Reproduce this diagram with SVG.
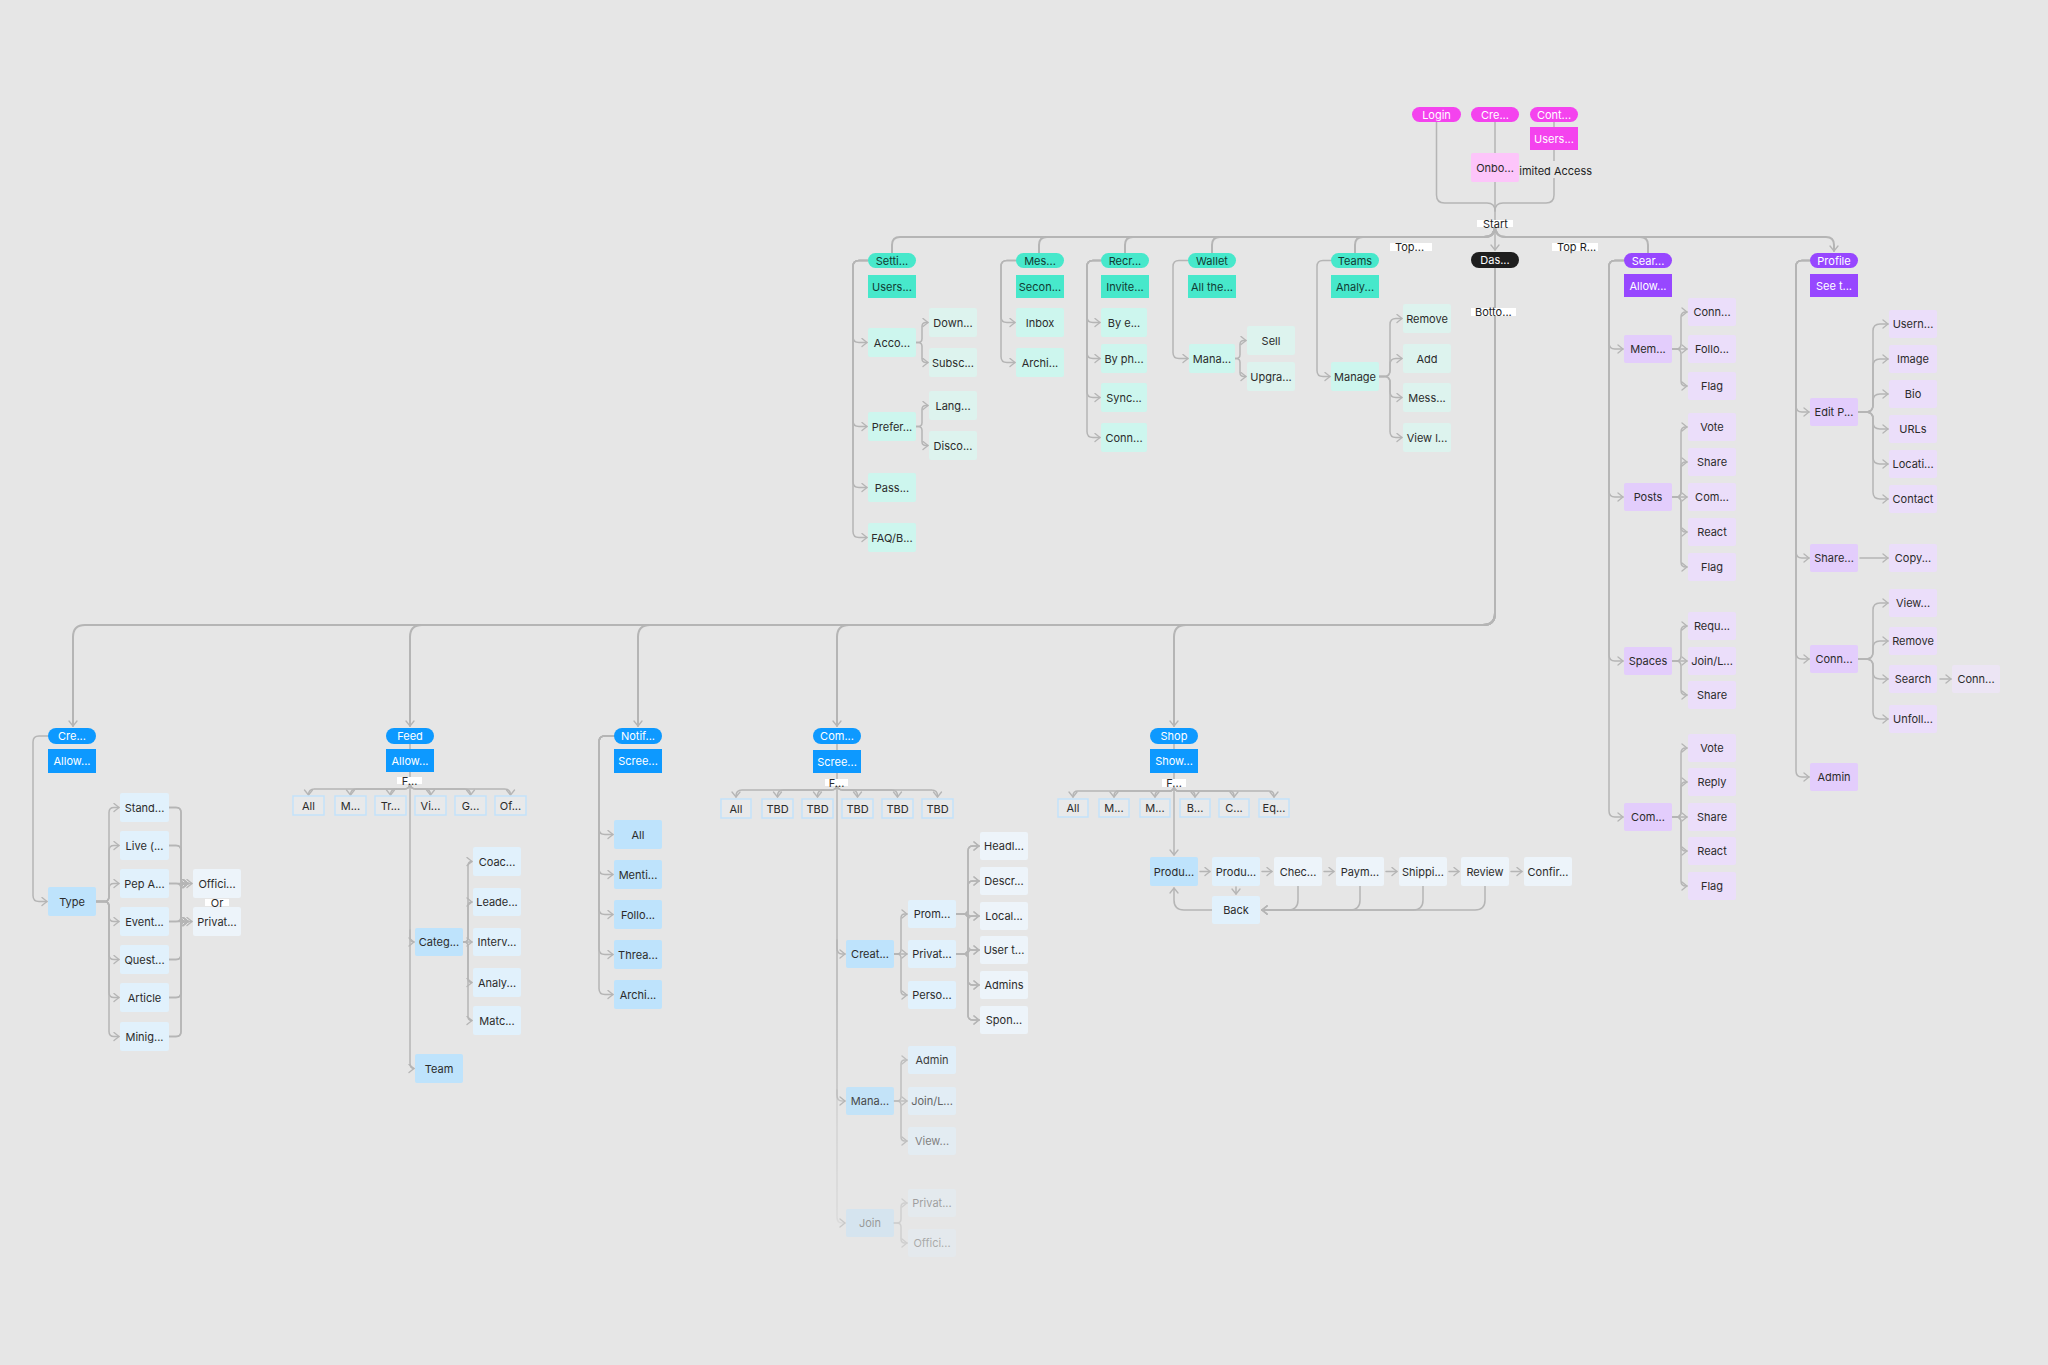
<svg xmlns="http://www.w3.org/2000/svg" width="2048" height="1365" viewBox="0 0 2048 1365">
<defs>
<style>
.c{fill:none;stroke:#b5b5b5;stroke-width:1.5;stroke-linecap:round;stroke-linejoin:round}
.cm{stroke-width:2}
.a{marker-end:url(#ar)}
text{font-family:Inter,"Noto Sans","Liberation Sans",sans-serif;font-size:11px;text-anchor:middle;dominant-baseline:central;fill:#2b2b2b}
text.w{fill:#ffffff}
text.tt{fill:#123b33}
text.l{text-anchor:start;fill:#1e1e1e}
.pm{fill:#f443ee}
.lm{fill:#fdc5fa}
.pd{fill:#1e1e1e}
.pt{fill:#47e8cb}
.t1{fill:#cdf6ee}
.t2{fill:#ddf3ee}
.pp{fill:#9747ff}
.p1{fill:#e3cdfc}
.p2{fill:#ebdefa}
.p3{fill:#ece5f4}
.pb{fill:#0d99ff}
.b1{fill:#bee3fc}
.b2{fill:#e1f1fc}
.b3{fill:#edf4fa}
.tab{fill:#e8e9ea;stroke:#c3e2fa;stroke-width:1.5}
.lb{fill:#ffffff}
</style>
<marker id="ar" markerUnits="userSpaceOnUse" markerWidth="12" markerHeight="12" viewBox="0 0 12 12" refX="6" refY="5" orient="auto"><path d="M1,1 L6,5 L1,9" fill="none" stroke="#b5b5b5" stroke-width="1.3" stroke-linecap="round" stroke-linejoin="round"/></marker>
<linearGradient id="fd" gradientUnits="userSpaceOnUse" x1="0" y1="1000" x2="0" y2="1240"><stop offset="0" stop-color="#b5b5b5"/><stop offset="1" stop-color="#b5b5b5" stop-opacity="0.3"/></linearGradient>
</defs>
<rect width="2048" height="1365" fill="#e6e6e6"/>

<g id="connectors">
<!-- top entry -->
<path class="c" d="M1436.5,122 V195 Q1436.5,203 1444.5,203 H1487 Q1495,203 1495,211"/>
<path class="c" d="M1554,122 V195 Q1554,203 1546,203 H1503 Q1495,203 1495,211"/>
<path class="c a" d="M1495,122 V250"/>
<!-- upper hub -->
<path class="c cm" d="M1495,226 Q1495,237 1484,237 H900 Q892,237 892,245 V253"/>
<path class="c cm" d="M1495,226 Q1495,237 1484,237 H1047 Q1039,237 1039,245 V253"/>
<path class="c cm" d="M1495,226 Q1495,237 1484,237 H1133 Q1125,237 1125,245 V253"/>
<path class="c cm" d="M1495,226 Q1495,237 1484,237 H1220 Q1212,237 1212,245 V253"/>
<path class="c cm" d="M1495,226 Q1495,237 1484,237 H1363 Q1355,237 1355,245 V253"/>
<path class="c cm" d="M1495,226 Q1495,237 1506,237 H1640 Q1648,237 1648,245 V253"/>
<path class="c cm a" d="M1495,226 Q1495,237 1506,237 H1826 Q1834,237 1834,245 V251"/>
<!-- lower hub -->
<path class="c cm a" d="M1495,268 V613 Q1495,625 1483,625 H85 Q73,625 73,637 V726"/>
<path class="c cm a" d="M1495,268 V613 Q1495,625 1483,625 H422 Q410,625 410,637 V726"/>
<path class="c cm a" d="M1495,268 V613 Q1495,625 1483,625 H650 Q638,625 638,637 V726"/>
<path class="c cm a" d="M1495,268 V613 Q1495,625 1483,625 H849 Q837,625 837,637 V726"/>
<path class="c cm a" d="M1495,268 V613 Q1495,625 1483,625 H1186 Q1174,625 1174,637 V726"/>

<!-- settings -->
<path class="c a" d="M868,260.5 H859 Q853,260.5 853,266.5 V336.5 Q853,342.5 859,342.5 H867"/>
<path class="c a" d="M868,260.5 H859 Q853,260.5 853,266.5 V420.5 Q853,426.5 859,426.5 H867"/>
<path class="c a" d="M868,260.5 H859 Q853,260.5 853,266.5 V481.5 Q853,487.5 859,487.5 H867"/>
<path class="c a" d="M868,260.5 H859 Q853,260.5 853,266.5 V531.5 Q853,537.5 859,537.5 H867"/>
<path class="c a" d="M916,342.5 H918 Q922,342.5 922,338.5 V326.5 Q922,322.5 926,322.5 H928"/>
<path class="c a" d="M916,342.5 H918 Q922,342.5 922,346.5 V358.5 Q922,362.5 926,362.5 H928"/>
<path class="c a" d="M916,426.5 H918 Q922,426.5 922,422.5 V409.5 Q922,405.5 926,405.5 H928"/>
<path class="c a" d="M916,426.5 H918 Q922,426.5 922,430.5 V441.5 Q922,445.5 926,445.5 H928"/>
<!-- messages -->
<path class="c a" d="M1016,260.5 H1007 Q1001,260.5 1001,266.5 V316.5 Q1001,322.5 1007,322.5 H1015"/>
<path class="c a" d="M1016,260.5 H1007 Q1001,260.5 1001,266.5 V356.5 Q1001,362.5 1007,362.5 H1015"/>
<!-- recruit -->
<path class="c a" d="M1101,260.5 H1093 Q1087,260.5 1087,266.5 V316.5 Q1087,322.5 1093,322.5 H1100"/>
<path class="c a" d="M1101,260.5 H1093 Q1087,260.5 1087,266.5 V352.5 Q1087,358.5 1093,358.5 H1100"/>
<path class="c a" d="M1101,260.5 H1093 Q1087,260.5 1087,266.5 V391.5 Q1087,397.5 1093,397.5 H1100"/>
<path class="c a" d="M1101,260.5 H1093 Q1087,260.5 1087,266.5 V431.5 Q1087,437.5 1093,437.5 H1100"/>
<!-- wallet -->
<path class="c a" d="M1188,260.5 H1179 Q1173,260.5 1173,266.5 V352.5 Q1173,358.5 1179,358.5 H1188"/>
<path class="c a" d="M1235,358.5 H1236 Q1240,358.5 1240,354.5 V344.5 Q1240,340.5 1244,340.5 H1246"/>
<path class="c a" d="M1235,358.5 H1236 Q1240,358.5 1240,362.5 V372.5 Q1240,376.5 1244,376.5 H1246"/>
<!-- teams -->
<path class="c a" d="M1331,260.5 H1323 Q1317,260.5 1317,266.5 V370.5 Q1317,376.5 1323,376.5 H1330"/>
<path class="c a" d="M1379,376.5 H1384 Q1390,376.5 1390,370.5 V324.5 Q1390,318.5 1396,318.5 H1402"/>
<path class="c a" d="M1379,376.5 H1384 Q1390,376.5 1390,370.5 V364.5 Q1390,358.5 1396,358.5 H1402"/>
<path class="c a" d="M1379,376.5 H1384 Q1390,376.5 1390,382.5 V391.5 Q1390,397.5 1396,397.5 H1402"/>
<path class="c a" d="M1379,376.5 H1384 Q1390,376.5 1390,382.5 V431.5 Q1390,437.5 1396,437.5 H1402"/>
<!-- search -->
<path class="c a" d="M1624,260.5 H1615 Q1609,260.5 1609,266.5 V343 Q1609,349 1615,349 H1623"/>
<path class="c a" d="M1624,260.5 H1615 Q1609,260.5 1609,266.5 V491 Q1609,497 1615,497 H1623"/>
<path class="c a" d="M1624,260.5 H1615 Q1609,260.5 1609,266.5 V655 Q1609,661 1615,661 H1623"/>
<path class="c a" d="M1624,260.5 H1615 Q1609,260.5 1609,266.5 V811 Q1609,817 1615,817 H1623"/>
<path class="c a" d="M1672,349 H1676 Q1681,349 1681,344 V317 Q1681,312 1686,312 H1687"/>
<path class="c a" d="M1672,349 H1687"/>
<path class="c a" d="M1672,349 H1676 Q1681,349 1681,354 V381 Q1681,386 1686,386 H1687"/>
<path class="c a" d="M1672,497 H1676 Q1681,497 1681,492 V432 Q1681,427 1686,427 H1687"/>
<path class="c a" d="M1672,497 H1676 Q1681,497 1681,492 V467 Q1681,462 1686,462 H1687"/>
<path class="c a" d="M1672,497 H1687"/>
<path class="c a" d="M1672,497 H1676 Q1681,497 1681,502 V527 Q1681,532 1686,532 H1687"/>
<path class="c a" d="M1672,497 H1676 Q1681,497 1681,502 V562 Q1681,567 1686,567 H1687"/>
<path class="c a" d="M1672,661 H1676 Q1681,661 1681,656 V631 Q1681,626 1686,626 H1687"/>
<path class="c a" d="M1672,661 H1687"/>
<path class="c a" d="M1672,661 H1676 Q1681,661 1681,666 V690 Q1681,695 1686,695 H1687"/>
<path class="c a" d="M1672,817 H1676 Q1681,817 1681,812 V753 Q1681,748 1686,748 H1687"/>
<path class="c a" d="M1672,817 H1676 Q1681,817 1681,812 V787 Q1681,782 1686,782 H1687"/>
<path class="c a" d="M1672,817 H1687"/>
<path class="c a" d="M1672,817 H1676 Q1681,817 1681,822 V846 Q1681,851 1686,851 H1687"/>
<path class="c a" d="M1672,817 H1676 Q1681,817 1681,822 V881 Q1681,886 1686,886 H1687"/>
<!-- profile -->
<path class="c a" d="M1810,260.5 H1802 Q1796,260.5 1796,266.5 V406 Q1796,412 1802,412 H1809"/>
<path class="c a" d="M1810,260.5 H1802 Q1796,260.5 1796,266.5 V552 Q1796,558 1802,558 H1809"/>
<path class="c a" d="M1810,260.5 H1802 Q1796,260.5 1796,266.5 V653 Q1796,659 1802,659 H1809"/>
<path class="c a" d="M1810,260.5 H1802 Q1796,260.5 1796,266.5 V771 Q1796,777 1802,777 H1809"/>
<path class="c a" d="M1858,412 H1866 Q1873,412 1873,405 V331 Q1873,324 1880,324 H1888"/>
<path class="c a" d="M1858,412 H1866 Q1873,412 1873,405 V366 Q1873,359 1880,359 H1888"/>
<path class="c a" d="M1858,412 H1866 Q1873,412 1873,405 V401 Q1873,394 1880,394 H1888"/>
<path class="c a" d="M1858,412 H1866 Q1873,412 1873,419 V422 Q1873,429 1880,429 H1888"/>
<path class="c a" d="M1858,412 H1866 Q1873,412 1873,419 V457 Q1873,464 1880,464 H1888"/>
<path class="c a" d="M1858,412 H1866 Q1873,412 1873,419 V492 Q1873,499 1880,499 H1888"/>
<path class="c a" d="M1860,558 H1888"/>
<path class="c a" d="M1858,659 H1866 Q1873,659 1873,652 V610 Q1873,603 1880,603 H1888"/>
<path class="c a" d="M1858,659 H1866 Q1873,659 1873,652 V648 Q1873,641 1880,641 H1888"/>
<path class="c a" d="M1858,659 H1866 Q1873,659 1873,666 V672 Q1873,679 1880,679 H1888"/>
<path class="c a" d="M1858,659 H1866 Q1873,659 1873,666 V712 Q1873,719 1880,719 H1888"/>
<path class="c a" d="M1940,679 H1951"/>

<!-- create -->
<path class="c a" d="M48,736 H39 Q33,736 33,742 V895.5 Q33,901.5 39,901.5 H47"/>
<path class="c a" d="M96,901.5 H104 Q109,901.5 109,896.5 V812.5 Q109,807.5 114,807.5 H119"/>
<path class="c a" d="M96,901.5 H104 Q109,901.5 109,896.5 V850.5 Q109,845.5 114,845.5 H119"/>
<path class="c a" d="M96,901.5 H104 Q109,901.5 109,896.5 V888.5 Q109,883.5 114,883.5 H119"/>
<path class="c a" d="M96,901.5 H104 Q109,901.5 109,906.5 V916.5 Q109,921.5 114,921.5 H119"/>
<path class="c a" d="M96,901.5 H104 Q109,901.5 109,906.5 V954.5 Q109,959.5 114,959.5 H119"/>
<path class="c a" d="M96,901.5 H104 Q109,901.5 109,906.5 V992.5 Q109,997.5 114,997.5 H119"/>
<path class="c a" d="M96,901.5 H104 Q109,901.5 109,906.5 V1031.5 Q109,1036.5 114,1036.5 H119"/>
<path class="c a" d="M169,807.5 H176 Q181,807.5 181,812.5 V878.5 Q181,883.5 186,883.5 H188"/>
<path class="c a" d="M169,807.5 H176 Q181,807.5 181,812.5 V916.5 Q181,921.5 186,921.5 H188"/>
<path class="c a" d="M169,845.5 H176 Q181,845.5 181,850.5 V878.5 Q181,883.5 186,883.5 H188"/>
<path class="c a" d="M169,845.5 H176 Q181,845.5 181,850.5 V916.5 Q181,921.5 186,921.5 H188"/>
<path class="c a" d="M169,883.5 H192"/>
<path class="c a" d="M169,883.5 H176 Q181,883.5 181,888.5 V916.5 Q181,921.5 186,921.5 H188"/>
<path class="c a" d="M169,921.5 H176 Q181,921.5 181,916.5 V888.5 Q181,883.5 186,883.5 H188"/>
<path class="c a" d="M169,921.5 H192"/>
<path class="c a" d="M169,959.5 H176 Q181,959.5 181,954.5 V888.5 Q181,883.5 186,883.5 H188"/>
<path class="c a" d="M169,959.5 H176 Q181,959.5 181,954.5 V926.5 Q181,921.5 186,921.5 H188"/>
<path class="c a" d="M169,997.5 H176 Q181,997.5 181,992.5 V888.5 Q181,883.5 186,883.5 H188"/>
<path class="c a" d="M169,997.5 H176 Q181,997.5 181,992.5 V926.5 Q181,921.5 186,921.5 H188"/>
<path class="c a" d="M169,1036.5 H176 Q181,1036.5 181,1031.5 V888.5 Q181,883.5 186,883.5 H188"/>
<path class="c a" d="M169,1036.5 H176 Q181,1036.5 181,1031.5 V926.5 Q181,921.5 186,921.5 H188"/>

<!-- feed -->
<path class="c a" d="M410,744 V1063 Q410,1068.5 414,1068.5"/>
<path class="c a" d="M410,930 V937 Q410,942 414,942"/>
<path class="c a" d="M410,783 Q410,789 404,789 H314.5 Q308.5,789 308.5,795"/>
<path class="c a" d="M410,783 Q410,789 404,789 H356.5 Q350.5,789 350.5,795"/>
<path class="c a" d="M410,783 Q410,789 404,789 H396.5 Q390.5,789 390.5,795"/>
<path class="c a" d="M410,783 Q410,789 416,789 H424.5 Q430.5,789 430.5,795"/>
<path class="c a" d="M410,783 Q410,789 416,789 H464.5 Q470.5,789 470.5,795"/>
<path class="c a" d="M410,783 Q410,789 416,789 H504.5 Q510.5,789 510.5,795"/>
<path class="c a" d="M463,942 H464 Q468,942 468,938 V865.5 Q468,861.5 472,861.5"/>
<path class="c a" d="M463,942 H464 Q468,942 468,938 V906 Q468,902 472,902"/>
<path class="c a" d="M463,942 H472"/>
<path class="c a" d="M463,942 H464 Q468,942 468,946 V978.5 Q468,982.5 472,982.5"/>
<path class="c a" d="M463,942 H464 Q468,942 468,946 V1016.5 Q468,1020.5 472,1020.5"/>

<!-- notifications -->
<path class="c a" d="M614,736 H605 Q599,736 599,742 V828.5 Q599,834.5 605,834.5 H613"/>
<path class="c a" d="M614,736 H605 Q599,736 599,742 V868.5 Q599,874.5 605,874.5 H613"/>
<path class="c a" d="M614,736 H605 Q599,736 599,742 V908.5 Q599,914.5 605,914.5 H613"/>
<path class="c a" d="M614,736 H605 Q599,736 599,742 V948.5 Q599,954.5 605,954.5 H613"/>
<path class="c a" d="M614,736 H605 Q599,736 599,742 V988.5 Q599,994.5 605,994.5 H613"/>

<!-- communities -->
<path class="c a" d="M837,744 V948 Q837,954 842,954 H845"/>
<path class="c a" style="stroke:url(#fd)" d="M837,940 V1095 Q837,1101 842,1101 H845"/>
<path class="c a" style="stroke:url(#fd)" opacity="0.6" d="M837,1090 V1217 Q837,1223 842,1223 H845"/>
<path class="c a" d="M837,784 Q837,790 831,790 H742 Q736,790 736,796 V797"/>
<path class="c a" d="M837,784 Q837,790 831,790 H783.5 Q777.5,790 777.5,796 V797"/>
<path class="c a" d="M837,784 Q837,790 831,790 H823.5 Q817.5,790 817.5,796 V797"/>
<path class="c a" d="M837,784 Q837,790 843,790 H851.5 Q857.5,790 857.5,796 V797"/>
<path class="c a" d="M837,784 Q837,790 843,790 H891.5 Q897.5,790 897.5,796 V797"/>
<path class="c a" d="M837,784 Q837,790 843,790 H931.5 Q937.5,790 937.5,796 V797"/>
<path class="c a" d="M894,954 H897 Q901,954 901,950 V918 Q901,914 905,914 H907"/>
<path class="c a" d="M894,954 H907"/>
<path class="c a" d="M894,954 H897 Q901,954 901,958 V991 Q901,995 905,995 H907"/>
<path class="c a" d="M956,914 H963 Q968,914 968,909 V851 Q968,846 973,846 H979"/>
<path class="c a" d="M956,914 H963 Q968,914 968,909 V886 Q968,881 973,881 H979"/>
<path class="c a" d="M956,914 H962 Q968,914 970,916 H979"/>
<path class="c a" d="M956,914 H963 Q968,914 968,919 V945 Q968,950 973,950 H979"/>
<path class="c a" d="M956,914 H963 Q968,914 968,919 V980 Q968,985 973,985 H979"/>
<path class="c a" d="M956,914 H963 Q968,914 968,919 V1015 Q968,1020 973,1020 H979"/>
<path class="c a" d="M956,954 H963 Q968,954 968,949 V851 Q968,846 973,846 H979"/>
<path class="c a" d="M956,954 H963 Q968,954 968,949 V886 Q968,881 973,881 H979"/>
<path class="c a" d="M956,954 H963 Q968,954 968,949 V921 Q968,916 973,916 H979"/>
<path class="c a" d="M956,954 H962 Q968,954 970,950 H979"/>
<path class="c a" d="M956,954 H963 Q968,954 968,959 V980 Q968,985 973,985 H979"/>
<path class="c a" d="M956,954 H963 Q968,954 968,959 V1015 Q968,1020 973,1020 H979"/>
<g opacity="0.8">
<path class="c a" d="M894,1101 H897 Q901,1101 901,1097 V1064 Q901,1060 905,1060 H907"/>
<path class="c a" d="M894,1101 H907"/>
<path class="c a" d="M894,1101 H897 Q901,1101 901,1105 V1137 Q901,1141 905,1141 H907"/>
</g>
<g opacity="0.45">
<path class="c a" d="M894,1223 H897 Q901,1223 901,1219 V1207 Q901,1203 905,1203 H907"/>
<path class="c a" d="M894,1223 H897 Q901,1223 901,1227 V1239 Q901,1243 905,1243 H907"/>
</g>

<!-- shop -->
<path class="c a" d="M1174,744 V855"/>
<path class="c a" d="M1174,786 Q1174,791 1169,791 H1078 Q1073,791 1073,796 V797"/>
<path class="c a" d="M1174,786 Q1174,791 1169,791 H1119 Q1114,791 1114,796 V797"/>
<path class="c a" d="M1174,786 Q1174,791 1169,791 H1160 Q1155,791 1155,796 V797"/>
<path class="c a" d="M1174,786 Q1174,791 1179,791 H1190 Q1195,791 1195,796 V797"/>
<path class="c a" d="M1174,786 Q1174,791 1179,791 H1229 Q1234,791 1234,796 V797"/>
<path class="c a" d="M1174,786 Q1174,791 1179,791 H1269 Q1274,791 1274,796 V797"/>
<path class="c a" d="M1200,871.5 H1210"/>
<path class="c a" d="M1262,871.5 H1272"/>
<path class="c a" d="M1324,871.5 H1334"/>
<path class="c a" d="M1386,871.5 H1397"/>
<path class="c a" d="M1449,871.5 H1459"/>
<path class="c a" d="M1511,871.5 H1522"/>
<path class="c a" d="M1236,887 V894"/>
<path class="c a" d="M1298,886 V900 Q1298,910 1288,910 H1262"/>
<path class="c a" d="M1360,886 V900 Q1360,910 1350,910 H1262"/>
<path class="c a" d="M1423,886 V900 Q1423,910 1413,910 H1262"/>
<path class="c a" d="M1485,886 V900 Q1485,910 1475,910 H1262"/>
<path class="c a" d="M1212,910 H1184 Q1174,910 1174,900 V888"/>

<!-- connector labels -->
<rect x="1512" y="161" width="82" height="17" fill="#e6e6e6"/>
<text class="l" x="1513" y="171">Limited Access</text>
<rect class="lb" x="1477" y="220" width="36" height="7"/>
<text class="l" x="1483" y="224">Start</text>
<rect class="lb" x="1390" y="243" width="42" height="8"/>
<text class="l" x="1395" y="247">Top...</text>
<rect class="lb" x="1552" y="243" width="46" height="8"/>
<text class="l" x="1557" y="247">Top R...</text>
<rect class="lb" x="1471" y="308" width="45" height="8"/>
<text class="l" x="1475" y="312">Botto...</text>
<rect class="lb" x="397" y="777" width="25" height="7"/>
<text x="409.5" y="780.5">F...</text>
<rect class="lb" x="825" y="779" width="23" height="7"/>
<text x="836.5" y="782.5">F...</text>
<rect class="lb" x="1162" y="779" width="24" height="8"/>
<text x="1174" y="783">F...</text>
<rect class="lb" x="205" y="899" width="24" height="7"/>
<text x="217" y="902.5">Or</text>
</g>

<!-- ===== TOP ===== -->
<g id="n-login"><rect class="pm" x="1412" y="107" width="49" height="15" rx="7.5"/><text class="w" x="1436.5" y="114.5">Login</text></g>
<g id="n-create-account"><rect class="pm" x="1471" y="107" width="48" height="15" rx="7.5"/><text class="w" x="1495" y="114.5">Cre...</text></g>
<g id="n-continue"><rect class="pm" x="1530" y="107" width="48" height="15" rx="7.5"/><text class="w" x="1554" y="114.5">Cont...</text></g>
<g id="n-continue-note"><rect class="pm" x="1530" y="127" width="48" height="23"/><text class="w" x="1554" y="138.5">Users...</text></g>
<g id="n-onboarding"><rect class="lm" x="1471" y="153" width="48" height="29" rx="2"/><text x="1495" y="167.5">Onbo...</text></g>
<g id="n-dashboard"><rect class="pd" x="1471" y="252" width="48" height="16" rx="8"/><text class="w" x="1495" y="260">Das...</text></g>

<!-- ===== SETTINGS ===== -->
<g id="n-settings"><rect class="pt" x="868" y="253" width="48" height="15" rx="7.5"/><text class="tt" x="892" y="260.5">Setti...</text></g>
<g id="n-settings-note"><rect class="pt" x="868" y="275" width="48" height="23"/><text class="tt" x="892" y="286.5">Users...</text></g>
<g id="n-account"><rect class="t1" x="868" y="328" width="48" height="29" rx="2"/><text x="892" y="342.5">Acco...</text></g>
<g id="n-preferences"><rect class="t1" x="868" y="412" width="48" height="29" rx="2"/><text x="892" y="426.5">Prefer...</text></g>
<g id="n-password"><rect class="t1" x="868" y="473" width="48" height="29" rx="2"/><text x="892" y="487.5">Pass...</text></g>
<g id="n-faq"><rect class="t1" x="868" y="523" width="48" height="29" rx="2"/><text x="892" y="537.5">FAQ/B...</text></g>
<g id="n-download"><rect class="t2" x="929" y="308" width="48" height="29" rx="2"/><text x="953" y="322.5">Down...</text></g>
<g id="n-subscription"><rect class="t2" x="929" y="348" width="48" height="29" rx="2"/><text x="953" y="362.5">Subsc...</text></g>
<g id="n-language"><rect class="t2" x="929" y="391" width="48" height="29" rx="2"/><text x="953" y="405.5">Lang...</text></g>
<g id="n-discovery"><rect class="t2" x="929" y="431" width="48" height="29" rx="2"/><text x="953" y="445.5">Disco...</text></g>

<!-- ===== MESSAGES ===== -->
<g id="n-messages"><rect class="pt" x="1016" y="253" width="48" height="15" rx="7.5"/><text class="tt" x="1040" y="260.5">Mes...</text></g>
<g id="n-messages-note"><rect class="pt" x="1016" y="275" width="48" height="23"/><text class="tt" x="1040" y="286.5">Secon...</text></g>
<g id="n-inbox"><rect class="t1" x="1016" y="308" width="48" height="29" rx="2"/><text x="1040" y="322.5">Inbox</text></g>
<g id="n-archive"><rect class="t1" x="1016" y="348" width="48" height="29" rx="2"/><text x="1040" y="362.5">Archi...</text></g>

<!-- ===== RECRUIT ===== -->
<g id="n-recruit"><rect class="pt" x="1101" y="253" width="48" height="15" rx="7.5"/><text class="tt" x="1125" y="260.5">Recr...</text></g>
<g id="n-recruit-note"><rect class="pt" x="1101" y="275" width="48" height="23"/><text class="tt" x="1125" y="286.5">Invite...</text></g>
<g id="n-by-email"><rect class="t1" x="1101" y="308" width="46" height="29" rx="2"/><text x="1124" y="322.5">By e...</text></g>
<g id="n-by-phone"><rect class="t1" x="1101" y="344" width="46" height="29" rx="2"/><text x="1124" y="358.5">By ph...</text></g>
<g id="n-sync"><rect class="t1" x="1101" y="383" width="46" height="29" rx="2"/><text x="1124" y="397.5">Sync...</text></g>
<g id="n-connect"><rect class="t1" x="1101" y="423" width="46" height="29" rx="2"/><text x="1124" y="437.5">Conn...</text></g>

<!-- ===== WALLET ===== -->
<g id="n-wallet"><rect class="pt" x="1188" y="253" width="48" height="15" rx="7.5"/><text class="tt" x="1212" y="260.5">Wallet</text></g>
<g id="n-wallet-note"><rect class="pt" x="1188" y="275" width="48" height="23"/><text class="tt" x="1212" y="286.5">All the...</text></g>
<g id="n-wallet-manage"><rect class="t1" x="1189" y="344" width="46" height="29" rx="2"/><text x="1212" y="358.5">Mana...</text></g>
<g id="n-sell"><rect class="t2" x="1247" y="326" width="48" height="29" rx="2"/><text x="1271" y="340.5">Sell</text></g>
<g id="n-upgrade"><rect class="t2" x="1247" y="362" width="48" height="29" rx="2"/><text x="1271" y="376.5">Upgra...</text></g>

<!-- ===== TEAMS ===== -->
<g id="n-teams"><rect class="pt" x="1331" y="253" width="48" height="15" rx="7.5"/><text class="tt" x="1355" y="260.5">Teams</text></g>
<g id="n-teams-note"><rect class="pt" x="1331" y="275" width="48" height="23"/><text class="tt" x="1355" y="286.5">Analy...</text></g>
<g id="n-teams-manage"><rect class="t1" x="1331" y="362" width="48" height="29" rx="2"/><text x="1355" y="376.5">Manage</text></g>
<g id="n-remove"><rect class="t2" x="1403" y="304" width="48" height="29" rx="2"/><text x="1427" y="318.5">Remove</text></g>
<g id="n-add"><rect class="t2" x="1403" y="344" width="48" height="29" rx="2"/><text x="1427" y="358.5">Add</text></g>
<g id="n-message"><rect class="t2" x="1403" y="383" width="48" height="29" rx="2"/><text x="1427" y="397.5">Mess...</text></g>
<g id="n-view"><rect class="t2" x="1403" y="423" width="48" height="29" rx="2"/><text x="1427" y="437.5">View l...</text></g>

<!-- ===== SEARCH ===== -->
<g id="n-search"><rect class="pp" x="1624" y="253" width="48" height="15" rx="7.5"/><text class="w" x="1648" y="260.5">Sear...</text></g>
<g id="n-search-note"><rect class="pp" x="1624" y="274" width="48" height="23"/><text class="w" x="1648" y="285.5">Allow...</text></g>
<g id="n-members"><rect class="p1" x="1624" y="335" width="48" height="28" rx="2"/><text x="1648" y="349">Mem...</text></g>
<g id="n-m-connect"><rect class="p2" x="1688" y="298" width="48" height="28" rx="2"/><text x="1712" y="312">Conn...</text></g>
<g id="n-m-follow"><rect class="p2" x="1688" y="335" width="48" height="28" rx="2"/><text x="1712" y="349">Follo...</text></g>
<g id="n-m-flag"><rect class="p2" x="1688" y="372" width="48" height="28" rx="2"/><text x="1712" y="386">Flag</text></g>
<g id="n-posts"><rect class="p1" x="1624" y="483" width="48" height="28" rx="2"/><text x="1648" y="497">Posts</text></g>
<g id="n-p-vote"><rect class="p2" x="1688" y="413" width="48" height="28" rx="2"/><text x="1712" y="427">Vote</text></g>
<g id="n-p-share"><rect class="p2" x="1688" y="448" width="48" height="28" rx="2"/><text x="1712" y="462">Share</text></g>
<g id="n-p-comment"><rect class="p2" x="1688" y="483" width="48" height="28" rx="2"/><text x="1712" y="497">Com...</text></g>
<g id="n-p-react"><rect class="p2" x="1688" y="518" width="48" height="28" rx="2"/><text x="1712" y="532">React</text></g>
<g id="n-p-flag"><rect class="p2" x="1688" y="553" width="48" height="28" rx="2"/><text x="1712" y="567">Flag</text></g>
<g id="n-spaces"><rect class="p1" x="1624" y="647" width="48" height="28" rx="2"/><text x="1648" y="661">Spaces</text></g>
<g id="n-s-request"><rect class="p2" x="1688" y="612" width="48" height="28" rx="2"/><text x="1712" y="626">Requ...</text></g>
<g id="n-s-join"><rect class="p2" x="1688" y="647" width="48" height="28" rx="2"/><text x="1712" y="661">Join/L...</text></g>
<g id="n-s-share"><rect class="p2" x="1688" y="681" width="48" height="28" rx="2"/><text x="1712" y="695">Share</text></g>
<g id="n-comments"><rect class="p1" x="1624" y="803" width="48" height="28" rx="2"/><text x="1648" y="817">Com...</text></g>
<g id="n-c-vote"><rect class="p2" x="1688" y="734" width="48" height="28" rx="2"/><text x="1712" y="748">Vote</text></g>
<g id="n-c-reply"><rect class="p2" x="1688" y="768" width="48" height="28" rx="2"/><text x="1712" y="782">Reply</text></g>
<g id="n-c-share"><rect class="p2" x="1688" y="803" width="48" height="28" rx="2"/><text x="1712" y="817">Share</text></g>
<g id="n-c-react"><rect class="p2" x="1688" y="837" width="48" height="28" rx="2"/><text x="1712" y="851">React</text></g>
<g id="n-c-flag"><rect class="p2" x="1688" y="872" width="48" height="28" rx="2"/><text x="1712" y="886">Flag</text></g>

<!-- ===== PROFILE ===== -->
<g id="n-profile"><rect class="pp" x="1810" y="253" width="48" height="15" rx="7.5"/><text class="w" x="1834" y="260.5">Profile</text></g>
<g id="n-profile-note"><rect class="pp" x="1810" y="274" width="48" height="23"/><text class="w" x="1834" y="285.5">See t...</text></g>
<g id="n-edit"><rect class="p1" x="1810" y="398" width="48" height="28" rx="2"/><text x="1834" y="412">Edit P...</text></g>
<g id="n-username"><rect class="p2" x="1889" y="310" width="48" height="28" rx="2"/><text x="1913" y="324">Usern...</text></g>
<g id="n-image"><rect class="p2" x="1889" y="345" width="48" height="28" rx="2"/><text x="1913" y="359">Image</text></g>
<g id="n-bio"><rect class="p2" x="1889" y="380" width="48" height="28" rx="2"/><text x="1913" y="394">Bio</text></g>
<g id="n-urls"><rect class="p2" x="1889" y="415" width="48" height="28" rx="2"/><text x="1913" y="429">URLs</text></g>
<g id="n-location"><rect class="p2" x="1889" y="450" width="48" height="28" rx="2"/><text x="1913" y="464">Locati...</text></g>
<g id="n-contact"><rect class="p2" x="1889" y="485" width="48" height="28" rx="2"/><text x="1913" y="499">Contact</text></g>
<g id="n-share-profile"><rect class="p1" x="1810" y="544" width="48" height="28" rx="2"/><text x="1834" y="558">Share...</text></g>
<g id="n-copy"><rect class="p2" x="1889" y="544" width="48" height="28" rx="2"/><text x="1913" y="558">Copy...</text></g>
<g id="n-connections"><rect class="p1" x="1810" y="645" width="48" height="28" rx="2"/><text x="1834" y="659">Conn...</text></g>
<g id="n-c-view"><rect class="p2" x="1889" y="589" width="48" height="28" rx="2"/><text x="1913" y="603">View...</text></g>
<g id="n-c-remove"><rect class="p2" x="1889" y="627" width="48" height="28" rx="2"/><text x="1913" y="641">Remove</text></g>
<g id="n-c-search"><rect class="p2" x="1889" y="665" width="48" height="28" rx="2"/><text x="1913" y="679">Search</text></g>
<g id="n-c-unfollow"><rect class="p2" x="1889" y="705" width="48" height="28" rx="2"/><text x="1913" y="719">Unfoll...</text></g>
<g id="n-c-connect"><rect class="p3" x="1952" y="665" width="48" height="28" rx="2"/><text x="1976" y="679">Conn...</text></g>
<g id="n-admin"><rect class="p1" x="1810" y="763" width="48" height="28" rx="2"/><text x="1834" y="777">Admin</text></g>

<!-- ===== CREATE ===== -->
<g id="n-create"><rect class="pb" x="48" y="728" width="48" height="16" rx="8"/><text class="w" x="72" y="736">Cre...</text></g>
<g id="n-create-note"><rect class="pb" x="48" y="749" width="48" height="24"/><text class="w" x="72" y="761">Allow...</text></g>
<g id="n-type"><rect class="b1" x="48" y="887" width="48" height="29" rx="2"/><text x="72" y="901.5">Type</text></g>
<g id="n-standard"><rect class="b2" x="120" y="793" width="49" height="29" rx="2"/><text x="144.5" y="807.5">Stand...</text></g>
<g id="n-live"><rect class="b2" x="120" y="831" width="49" height="29" rx="2"/><text x="144.5" y="845.5">Live (...</text></g>
<g id="n-pep"><rect class="b2" x="120" y="869" width="49" height="29" rx="2"/><text x="144.5" y="883.5">Pep A...</text></g>
<g id="n-event"><rect class="b2" x="120" y="907" width="49" height="29" rx="2"/><text x="144.5" y="921.5">Event...</text></g>
<g id="n-question"><rect class="b2" x="120" y="945" width="49" height="29" rx="2"/><text x="144.5" y="959.5">Quest...</text></g>
<g id="n-article"><rect class="b2" x="120" y="983" width="49" height="29" rx="2"/><text x="144.5" y="997.5">Article</text></g>
<g id="n-minigame"><rect class="b2" x="120" y="1022" width="49" height="29" rx="2"/><text x="144.5" y="1036.5">Minig...</text></g>
<g id="n-official"><rect class="b3" x="193" y="869" width="48" height="29" rx="2"/><text x="217" y="883.5">Offici...</text></g>
<g id="n-private"><rect class="b3" x="193" y="907" width="48" height="29" rx="2"/><text x="217" y="921.5">Privat...</text></g>

<!-- ===== FEED ===== -->
<g id="n-feed"><rect class="pb" x="386" y="728" width="48" height="16" rx="8"/><text class="w" x="410" y="736">Feed</text></g>
<g id="n-feed-note"><rect class="pb" x="386" y="749" width="48" height="23"/><text class="w" x="410" y="760.5">Allow...</text></g>
<g id="n-f-all"><rect class="tab" x="293" y="796" width="31" height="19"/><text x="308.5" y="805.5">All</text></g>
<g id="n-f-m"><rect class="tab" x="335" y="796" width="31" height="19"/><text x="350.5" y="805.5">M...</text></g>
<g id="n-f-tr"><rect class="tab" x="375" y="796" width="31" height="19"/><text x="390.5" y="805.5">Tr...</text></g>
<g id="n-f-vi"><rect class="tab" x="415" y="796" width="31" height="19"/><text x="430.5" y="805.5">Vi...</text></g>
<g id="n-f-g"><rect class="tab" x="455" y="796" width="31" height="19"/><text x="470.5" y="805.5">G...</text></g>
<g id="n-f-of"><rect class="tab" x="495" y="796" width="31" height="19"/><text x="510.5" y="805.5">Of...</text></g>
<g id="n-category"><rect class="b1" x="415" y="928" width="48" height="28" rx="2"/><text x="439" y="942">Categ...</text></g>
<g id="n-team"><rect class="b1" x="415" y="1054" width="48" height="29" rx="2"/><text x="439" y="1068.5">Team</text></g>
<g id="n-coach"><rect class="b2" x="473" y="847" width="48" height="29" rx="2"/><text x="497" y="861.5">Coac...</text></g>
<g id="n-leader"><rect class="b2" x="473" y="888" width="48" height="28" rx="2"/><text x="497" y="902">Leade...</text></g>
<g id="n-interview"><rect class="b2" x="473" y="928" width="48" height="28" rx="2"/><text x="497" y="942">Interv...</text></g>
<g id="n-analysis"><rect class="b2" x="473" y="968" width="48" height="29" rx="2"/><text x="497" y="982.5">Analy...</text></g>
<g id="n-match"><rect class="b2" x="473" y="1006" width="48" height="29" rx="2"/><text x="497" y="1020.5">Matc...</text></g>

<!-- ===== NOTIFICATIONS ===== -->
<g id="n-notif"><rect class="pb" x="614" y="728" width="48" height="16" rx="8"/><text class="w" x="638" y="736">Notif...</text></g>
<g id="n-notif-note"><rect class="pb" x="614" y="749" width="48" height="24"/><text class="w" x="638" y="761">Scree...</text></g>
<g id="n-n-all"><rect class="b1" x="614" y="820" width="48" height="29" rx="2"/><text x="638" y="834.5">All</text></g>
<g id="n-n-mentions"><rect class="b1" x="614" y="860" width="48" height="29" rx="2"/><text x="638" y="874.5">Menti...</text></g>
<g id="n-n-follow"><rect class="b1" x="614" y="900" width="48" height="29" rx="2"/><text x="638" y="914.5">Follo...</text></g>
<g id="n-n-threads"><rect class="b1" x="614" y="940" width="48" height="29" rx="2"/><text x="638" y="954.5">Threa...</text></g>
<g id="n-n-archive"><rect class="b1" x="614" y="980" width="48" height="29" rx="2"/><text x="638" y="994.5">Archi...</text></g>

<!-- ===== COMMUNITIES ===== -->
<g id="n-comm"><rect class="pb" x="813" y="728" width="48" height="16" rx="8"/><text class="w" x="837" y="736">Com...</text></g>
<g id="n-comm-note"><rect class="pb" x="813" y="750" width="48" height="23"/><text class="w" x="837" y="761.5">Scree...</text></g>
<g id="n-cm-all"><rect class="tab" x="721" y="799" width="30" height="19"/><text x="736" y="808.5">All</text></g>
<g id="n-cm-tbd1"><rect class="tab" x="762" y="799" width="31" height="19"/><text x="777.5" y="808.5">TBD</text></g>
<g id="n-cm-tbd2"><rect class="tab" x="802" y="799" width="31" height="19"/><text x="817.5" y="808.5">TBD</text></g>
<g id="n-cm-tbd3"><rect class="tab" x="842" y="799" width="31" height="19"/><text x="857.5" y="808.5">TBD</text></g>
<g id="n-cm-tbd4"><rect class="tab" x="882" y="799" width="31" height="19"/><text x="897.5" y="808.5">TBD</text></g>
<g id="n-cm-tbd5"><rect class="tab" x="922" y="799" width="31" height="19"/><text x="937.5" y="808.5">TBD</text></g>
<g id="n-cm-create"><rect class="b1" x="846" y="940" width="48" height="28" rx="2"/><text x="870" y="954">Creat...</text></g>
<g id="n-cm-promo"><rect class="b2" x="908" y="900" width="48" height="28" rx="2"/><text x="932" y="914">Prom...</text></g>
<g id="n-cm-private"><rect class="b2" x="908" y="940" width="48" height="28" rx="2"/><text x="932" y="954">Privat...</text></g>
<g id="n-cm-personal"><rect class="b2" x="908" y="981" width="48" height="28" rx="2"/><text x="932" y="995">Perso...</text></g>
<g id="n-cm-headline"><rect class="b3" x="980" y="832" width="48" height="28" rx="2"/><text x="1004" y="846">Headl...</text></g>
<g id="n-cm-desc"><rect class="b3" x="980" y="867" width="48" height="28" rx="2"/><text x="1004" y="881">Descr...</text></g>
<g id="n-cm-local"><rect class="b3" x="980" y="902" width="48" height="28" rx="2"/><text x="1004" y="916">Local...</text></g>
<g id="n-cm-usertype"><rect class="b3" x="980" y="936" width="48" height="28" rx="2"/><text x="1004" y="950">User t...</text></g>
<g id="n-cm-admins"><rect class="b3" x="980" y="971" width="48" height="28" rx="2"/><text x="1004" y="985">Admins</text></g>
<g id="n-cm-sponsor"><rect class="b3" x="980" y="1006" width="48" height="28" rx="2"/><text x="1004" y="1020">Spon...</text></g>
<g id="n-cm-manage" opacity="0.85"><rect class="b1" x="846" y="1087" width="48" height="28" rx="2"/><text x="870" y="1101">Mana...</text></g>
<g id="n-cm-admin" opacity="0.9"><rect class="b2" x="908" y="1046" width="48" height="28" rx="2"/><text x="932" y="1060">Admin</text></g>
<g id="n-cm-joinleave" opacity="0.7"><rect class="b2" x="908" y="1087" width="48" height="28" rx="2"/><text x="932" y="1101">Join/L...</text></g>
<g id="n-cm-viewm" opacity="0.55"><rect class="b2" x="908" y="1127" width="48" height="28" rx="2"/><text x="932" y="1141">View...</text></g>
<g id="n-cm-join" opacity="0.42"><rect class="b1" x="846" y="1209" width="48" height="28" rx="2"/><text x="870" y="1223">Join</text></g>
<g id="n-cm-jprivate" opacity="0.38"><rect class="b2" x="908" y="1189" width="48" height="28" rx="2"/><text x="932" y="1203">Privat...</text></g>
<g id="n-cm-jofficial" opacity="0.32"><rect class="b2" x="908" y="1229" width="48" height="28" rx="2"/><text x="932" y="1243">Offici...</text></g>

<!-- ===== SHOP ===== -->
<g id="n-shop"><rect class="pb" x="1150" y="728" width="48" height="16" rx="8"/><text class="w" x="1174" y="736">Shop</text></g>
<g id="n-shop-note"><rect class="pb" x="1150" y="749" width="48" height="24"/><text class="w" x="1174" y="761">Show...</text></g>
<g id="n-sh-all"><rect class="tab" x="1058" y="799" width="30" height="18"/><text x="1073" y="808">All</text></g>
<g id="n-sh-m1"><rect class="tab" x="1099" y="799" width="30" height="18"/><text x="1114" y="808">M...</text></g>
<g id="n-sh-m2"><rect class="tab" x="1140" y="799" width="30" height="18"/><text x="1155" y="808">M...</text></g>
<g id="n-sh-b"><rect class="tab" x="1180" y="799" width="30" height="18"/><text x="1195" y="808">B...</text></g>
<g id="n-sh-c"><rect class="tab" x="1219" y="799" width="30" height="18"/><text x="1234" y="808">C...</text></g>
<g id="n-sh-eq"><rect class="tab" x="1259" y="799" width="30" height="18"/><text x="1274" y="808">Eq...</text></g>
<g id="n-products"><rect class="b1" x="1150" y="857" width="48" height="29" rx="2"/><text x="1174" y="871.5">Produ...</text></g>
<g id="n-product"><rect class="b2" x="1212" y="857" width="48" height="29" rx="2"/><text x="1236" y="871.5">Produ...</text></g>
<g id="n-checkout"><rect class="b3" x="1274" y="857" width="48" height="29" rx="2"/><text x="1298" y="871.5">Chec...</text></g>
<g id="n-payment"><rect class="b3" x="1336" y="857" width="48" height="29" rx="2"/><text x="1360" y="871.5">Paym...</text></g>
<g id="n-shipping"><rect class="b3" x="1399" y="857" width="48" height="29" rx="2"/><text x="1423" y="871.5">Shippi...</text></g>
<g id="n-review"><rect class="b3" x="1461" y="857" width="48" height="29" rx="2"/><text x="1485" y="871.5">Review</text></g>
<g id="n-confirm"><rect class="b3" x="1524" y="857" width="48" height="29" rx="2"/><text x="1548" y="871.5">Confir...</text></g>
<g id="n-back"><rect class="b2" x="1212" y="896" width="48" height="28" rx="2"/><text x="1236" y="910">Back</text></g>
</svg>
